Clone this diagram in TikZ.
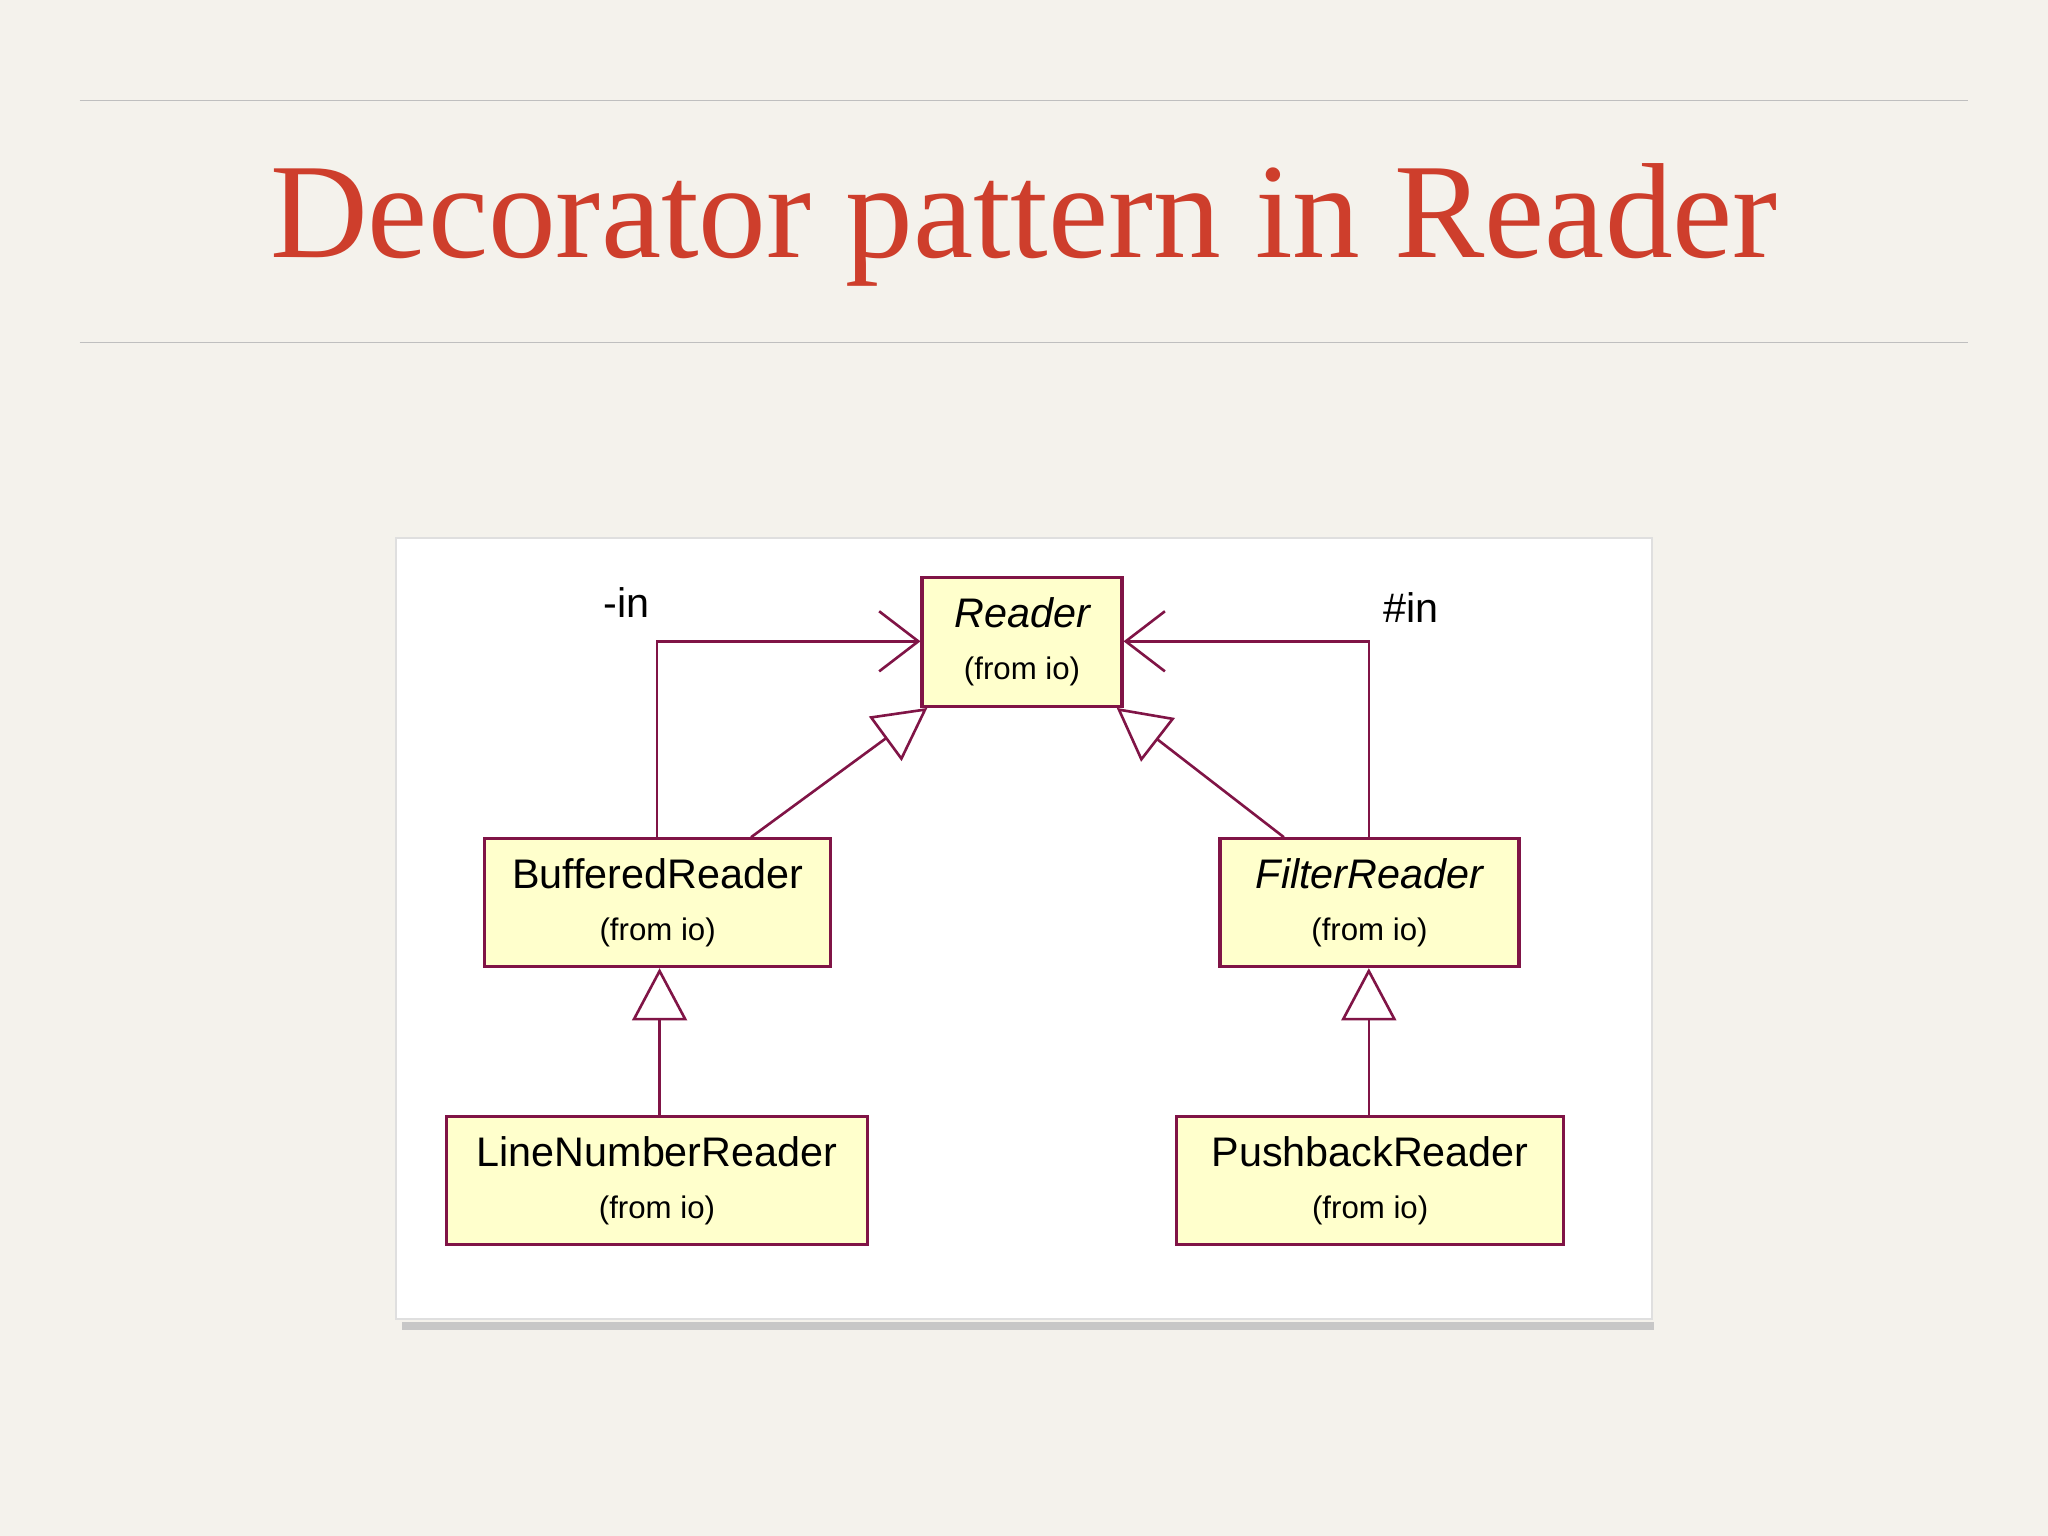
\documentclass[tikz,border=0pt]{standalone}
\usepackage{fontspec}
\setmainfont{Liberation Serif}
\setsansfont{Liberation Sans}
\usetikzlibrary{arrows.meta}
\definecolor{bgc}{RGB}{244,242,236}
\definecolor{titlered}{RGB}{206,62,44}
\definecolor{boxfill}{RGB}{255,255,204}
\definecolor{umlline}{RGB}{128,20,70}
\tikzset{
  cls/.style={draw=umlline,fill=boxfill,line width=0.25mm,inner sep=0pt},
  conn/.style={draw=umlline,line width=0.2mm},
  assoc/.style={conn,-{Straight Barb[length=3mm,width=4.6mm]}},
  gen/.style={conn,-{Triangle[open,length=4mm,width=4.2mm,fill=white]}},
}
\newcommand{\clsname}[2]{\parbox{#1}{\centering\sffamily\fontsize{9}{11}\selectfont #2\\[1.2mm]\upshape\fontsize{6.8}{8}\selectfont(from io)}}
\begin{document}
\begin{tikzpicture}[x=0.1mm,y=-0.1mm]
\fill[bgc] (0,0) rectangle (1568,1176);
\useasboundingbox (0,0) rectangle (1568,1176);
\draw[gray!50,line width=0.1mm] (61,77) -- (1507,77);
\draw[gray!50,line width=0.1mm] (61,262) -- (1507,262);
\node[text=titlered,font=\fontsize{29.5}{34}\selectfont] (title) at (784,172) {Decorator pattern in Reader};
% panel
\fill[black!22] (308,1012) rectangle (1266,1018);
\fill[white,draw=gray!25] (303,412) rectangle (1265,1010);
% boxes
\node[cls,minimum width=15.3mm,minimum height=9.9mm] (reader) at (782.5,491.5) {\clsname{15mm}{\itshape Reader}};
\node[cls,minimum width=26.5mm,minimum height=9.8mm] (buf) at (503.5,691) {\clsname{26mm}{BufferedReader}};
\node[cls,minimum width=22.9mm,minimum height=9.8mm] (filt) at (1048.5,691) {\clsname{22mm}{\itshape FilterReader}};
\node[cls,minimum width=32.2mm,minimum height=9.8mm] (line) at (503,904) {\clsname{32mm}{LineNumberReader}};
\node[cls,minimum width=29.6mm,minimum height=9.8mm] (push) at (1049,904) {\clsname{29mm}{PushbackReader}};
% associations
\draw[assoc] (503,642) |- (reader.west |- 0,491);
\draw[assoc] (1048,642) |- (reader.east |- 0,491);
\node[font=\sffamily\fontsize{9}{11}\selectfont] (lin) at (480,461) {-in};
\node[font=\sffamily\fontsize{9}{11}\selectfont] (hin) at (1080,465) {\#in};
% generalizations
\draw[gen] (575,641) -- (710,542);
\draw[gen] (983,641) -- (855,542);
\draw[gen] (line.north -| 505,0) -- (buf.south -| 505,0);
\draw[gen] (push.north -| 1048,0) -- (filt.south -| 1048,0);
\end{tikzpicture}
\end{document}
